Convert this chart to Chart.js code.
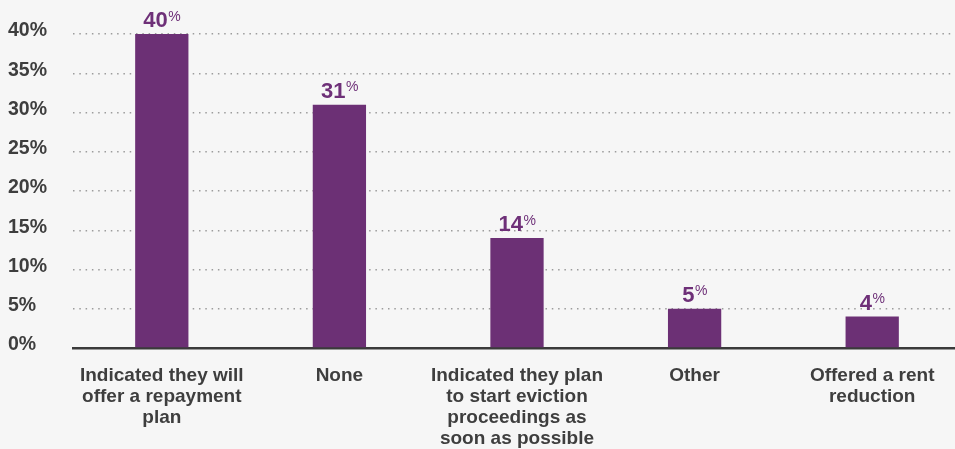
<!DOCTYPE html>
<html>
<head>
<meta charset="utf-8">
<script src="https://cdn.jsdelivr.net/npm/chart.js@4.4.1/dist/chart.umd.min.js"></script>
<style>
    html, body { margin: 0; padding: 0; background: #f6f6f6; overflow: hidden; }
    canvas { display: block; }
</style>
</head>
<body>
<canvas id="landlordChart" width="961" height="449"></canvas>
<script>
// Respuestas de los propietarios (porcentaje)
const categorias = [
    ['Indicated they will', 'offer a repayment', 'plan'],
    'None',
    ['Indicated they plan', 'to start eviction', 'proceedings as', 'soon as possible'],
    'Other',
    ['Offered a rent', 'reduction']
];
const valores = [40, 31, 14, 5, 4];
const ticksY = [0, 5, 10, 15, 20, 25, 30, 35, 40];

const morado = '#6c3075';
const textoGris = '#3e3e3e';
const fuente = '"Liberation Sans", Arial, sans-serif';

// Etiquetas de valor sobre cada barra: numero grande y % en superindice
const etiquetasValor = {
    id: 'etiquetasValor',
    afterDatasetsDraw(chart) {
        const ctx = chart.ctx;
        const meta = chart.getDatasetMeta(0);
        ctx.save();
        ctx.fillStyle = '#6e3078';
        ctx.textBaseline = 'alphabetic';
        ctx.textAlign = 'left';
        meta.data.forEach(function (bar, i) {
            const numero = String(valores[i]);
            ctx.font = 'bold 22px ' + fuente;
            const anchoNum = ctx.measureText(numero).width;
            ctx.font = '14px ' + fuente;
            const anchoPct = ctx.measureText('%').width;
            const inicio = bar.x - (anchoNum + anchoPct) / 2;
            const base = bar.y - 7;
            ctx.font = 'bold 22px ' + fuente;
            ctx.fillText(numero, inicio, base);
            ctx.font = '14px ' + fuente;
            ctx.fillText('%', inicio + anchoNum + 0.5, base - 6.5);
        });
        ctx.restore();
    }
};

var ctx = document.getElementById('landlordChart').getContext('2d');

var grafico = new Chart(ctx, {
    type: 'bar',
    data: {
        labels: categorias,
        datasets: [{
            data: valores,
            backgroundColor: morado,
            borderWidth: 0,
            barPercentage: 0.3,
            categoryPercentage: 1.0
        }]
    },
    options: {
        responsive: false,
        animation: false,
        layout: {
            padding: { left: 8, right: 0, top: 34, bottom: 0 }
        },
        plugins: {
            legend: { display: false },
            tooltip: { enabled: false }
        },
        scales: {
            x: {
                grid: { display: false, drawTicks: false },
                border: { display: true, color: '#3a3a3a', width: 2.5 },
                ticks: {
                    color: textoGris,
                    font: { family: fuente, size: 19, weight: 'bold', lineHeight: 1.11 },
                    padding: 17,
                    maxRotation: 0,
                    autoSkip: false
                },
                afterFit: function (scale) { scale.height = 101; }
            },
            y: {
                min: 0,
                max: 40,
                afterBuildTicks: function (scale) {
                    scale.ticks = ticksY.map(v => ({ value: v }));
                },
                grid: {
                    drawTicks: false,
                    color: c => c.tick && c.tick.value === 0 ? 'rgba(0,0,0,0)' : '#9c9c9c',
                    lineWidth: 1.5
                },
                border: { display: false, dash: [1.5, 4.8] },
                ticks: {
                    color: textoGris,
                    crossAlign: 'far',
                    labelOffset: -3,
                    font: { family: fuente, size: 19.5, weight: 'bold' },
                    callback: v => v + '%'
                },
                afterFit: function (scale) { scale.width = 65; }
            }
        }
    },
    plugins: [etiquetasValor]
});
</script>
</body>
</html>
